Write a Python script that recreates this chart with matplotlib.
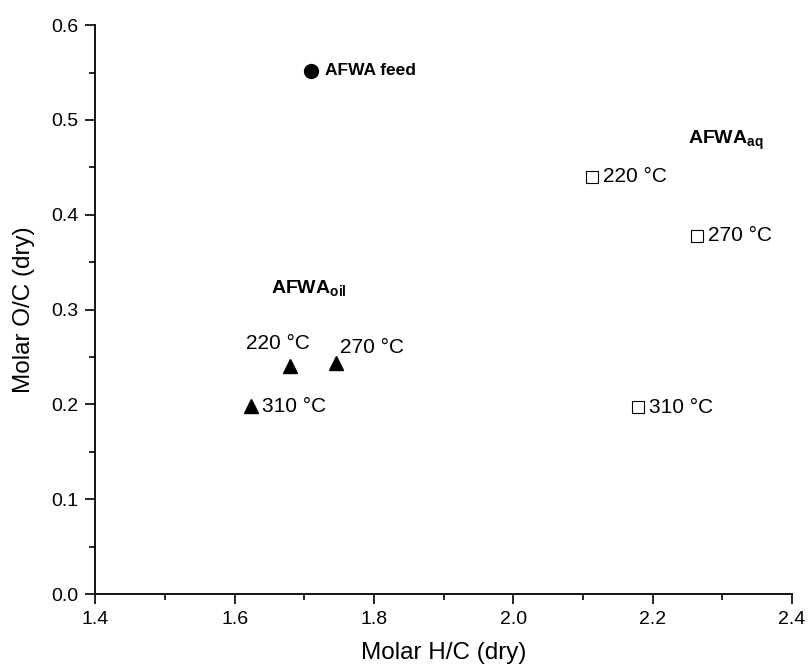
import matplotlib.pyplot as plt
from matplotlib.ticker import MultipleLocator

plt.rcParams['font.family'] = ['Liberation Sans', 'DejaVu Sans']
plt.rcParams['mathtext.fontset'] = 'custom'
plt.rcParams['mathtext.bf'] = 'Liberation Sans:bold'

# feedstock
feed_hc = [1.71]
feed_oc = [0.552]

# bio-oil (triangles)
oil_temps = ['220 °C', '270 °C', '310 °C']
oil_hc = [1.680, 1.746, 1.623]
oil_oc = [0.241, 0.244, 0.198]

# aqueous phase (open squares)
aq_temps = ['220 °C', '270 °C', '310 °C']
aq_hc = [2.113, 2.264, 2.179]
aq_oc = [0.440, 0.378, 0.197]

fig = plt.figure(figsize=(8.08, 6.70), dpi=100)
ax = fig.add_axes([0.118, 0.1134, 0.862, 0.849])

ax.plot(feed_hc, feed_oc, 'o', color='black', ms=10)
ax.plot(oil_hc, oil_oc, '^', color='black', ms=10)
ax.plot(aq_hc, aq_oc, 's', mfc='white', mec='black', mew=0.8, ms=8)

ax.annotate('AFWA feed', (feed_hc[0], feed_oc[0]), xytext=(10, 0),
            textcoords='offset points', va='center', fontsize=12.5,
            fontweight='bold')

# oil labels
ax.annotate(oil_temps[0], (oil_hc[0], oil_oc[0]), xytext=(-9, 16),
            textcoords='offset points', ha='center', va='center', fontsize=15)
ax.annotate(oil_temps[1], (oil_hc[1], oil_oc[1]), xytext=(3, 11),
            textcoords='offset points', ha='left', va='center', fontsize=15)
ax.annotate(oil_temps[2], (oil_hc[2], oil_oc[2]), xytext=(8, 0),
            textcoords='offset points', ha='left', va='center', fontsize=15)

for t, x, y in zip(aq_temps, aq_hc, aq_oc):
    ax.annotate(t, (x, y), xytext=(8, 0), textcoords='offset points',
                ha='left', va='center', fontsize=15)

ax.text(1.652, 0.317, r'AFWA$_{\mathbf{oil}}$', fontsize=14, fontweight='bold',
        ha='left', va='baseline')
ax.text(2.251, 0.475, r'AFWA$_{\mathbf{aq}}$', fontsize=14, fontweight='bold',
        ha='left', va='baseline')

ax.set_xlim(1.4, 2.4)
ax.set_ylim(0.0, 0.6)
ax.xaxis.set_major_locator(MultipleLocator(0.2))
ax.xaxis.set_minor_locator(MultipleLocator(0.1))
ax.yaxis.set_major_locator(MultipleLocator(0.1))
ax.yaxis.set_minor_locator(MultipleLocator(0.05))
ax.tick_params(which='major', direction='out', length=7, width=1.2,
               labelsize=14, pad=5)
ax.tick_params(which='minor', direction='out', length=4, width=1.2)

ax.spines['top'].set_visible(False)
ax.spines['right'].set_visible(False)
for s in ['left', 'bottom']:
    ax.spines[s].set_linewidth(1.3)

ax.set_xlabel('Molar H/C (dry)', fontsize=17.5, labelpad=10)
ax.set_ylabel('Molar O/C (dry)', fontsize=17.5, labelpad=12)

fig.savefig('out.png', dpi=100)
